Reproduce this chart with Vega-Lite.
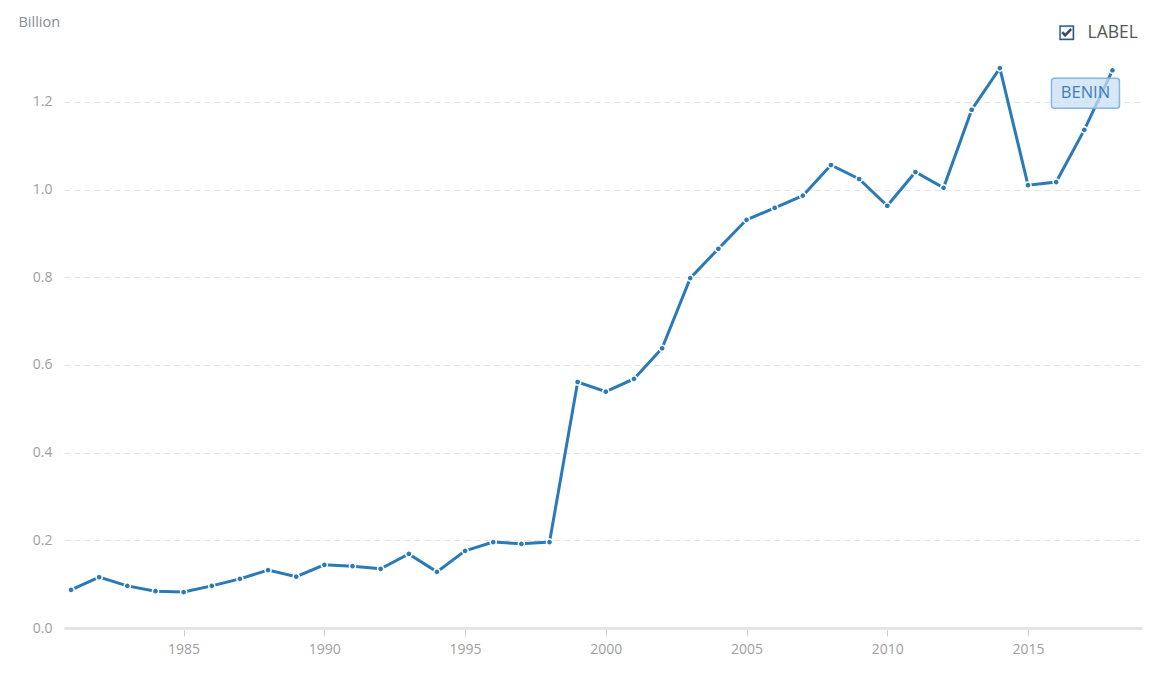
{
  "$schema": "https://vega.github.io/schema/vega-lite/v6.json",
  "width": 1078,
  "height": 570,
  "autosize": {"type": "none"},
  "padding": {"left": 64, "top": 58, "right": 13, "bottom": 72},
  "background": "#ffffff",
  "data": {
    "values": [
      {"year": 1981, "value": 0.087, "country": "BENIN"},
      {"year": 1982, "value": 0.116, "country": "BENIN"},
      {"year": 1983, "value": 0.096, "country": "BENIN"},
      {"year": 1984, "value": 0.084, "country": "BENIN"},
      {"year": 1985, "value": 0.082, "country": "BENIN"},
      {"year": 1986, "value": 0.096, "country": "BENIN"},
      {"year": 1987, "value": 0.112, "country": "BENIN"},
      {"year": 1988, "value": 0.132, "country": "BENIN"},
      {"year": 1989, "value": 0.117, "country": "BENIN"},
      {"year": 1990, "value": 0.144, "country": "BENIN"},
      {"year": 1991, "value": 0.141, "country": "BENIN"},
      {"year": 1992, "value": 0.135, "country": "BENIN"},
      {"year": 1993, "value": 0.169, "country": "BENIN"},
      {"year": 1994, "value": 0.128, "country": "BENIN"},
      {"year": 1995, "value": 0.176, "country": "BENIN"},
      {"year": 1996, "value": 0.196, "country": "BENIN"},
      {"year": 1997, "value": 0.192, "country": "BENIN"},
      {"year": 1998, "value": 0.196, "country": "BENIN"},
      {"year": 1999, "value": 0.561, "country": "BENIN"},
      {"year": 2000, "value": 0.539, "country": "BENIN"},
      {"year": 2001, "value": 0.568, "country": "BENIN"},
      {"year": 2002, "value": 0.638, "country": "BENIN"},
      {"year": 2003, "value": 0.798, "country": "BENIN"},
      {"year": 2004, "value": 0.865, "country": "BENIN"},
      {"year": 2005, "value": 0.931, "country": "BENIN"},
      {"year": 2006, "value": 0.958, "country": "BENIN"},
      {"year": 2007, "value": 0.986, "country": "BENIN"},
      {"year": 2008, "value": 1.056, "country": "BENIN"},
      {"year": 2009, "value": 1.024, "country": "BENIN"},
      {"year": 2010, "value": 0.963, "country": "BENIN"},
      {"year": 2011, "value": 1.040, "country": "BENIN"},
      {"year": 2012, "value": 1.004, "country": "BENIN"},
      {"year": 2013, "value": 1.182, "country": "BENIN"},
      {"year": 2014, "value": 1.277, "country": "BENIN"},
      {"year": 2015, "value": 1.010, "country": "BENIN"},
      {"year": 2016, "value": 1.017, "country": "BENIN"},
      {"year": 2017, "value": 1.136, "country": "BENIN"},
      {"year": 2018, "value": 1.272, "country": "BENIN"}
    ]
  },
  "encoding": {
    "x": {
      "field": "year",
      "type": "quantitative",
      "scale": {"domain": [1980.75, 2019.05], "nice": false, "zero": false},
      "axis": {
        "title": null,
        "values": [1985, 1990, 1995, 2000, 2005, 2010, 2015],
        "format": "d",
        "grid": false,
        "domainColor": "#e1e5ea",
        "domainWidth": 3,
        "tickColor": "#cfcfcf",
        "tickSize": 8,
        "labelPadding": 6,
        "labelColor": "#9e9e9e",
        "labelFont": "Open Sans",
        "labelFontSize": 14
      }
    },
    "y": {
      "field": "value",
      "type": "quantitative",
      "scale": {"domain": [0, 1.3], "nice": false},
      "axis": {
        "title": "Billion",
        "titleAngle": 0,
        "titleAlign": "left",
        "titleBaseline": "middle",
        "titleX": -46,
        "titleY": -36,
        "titleColor": "#878d95",
        "titleFont": "Open Sans",
        "titleFontSize": 14.5,
        "titleFontWeight": "normal",
        "values": [0, 0.2, 0.4, 0.6, 0.8, 1.0, 1.2],
        "format": ".1f",
        "domain": false,
        "ticks": false,
        "grid": true,
        "gridColor": "#e4e4e4",
        "gridDash": [6, 4],
        "labelPadding": 12,
        "labelColor": "#9e9e9e",
        "labelFont": "Open Sans",
        "labelFontSize": 14
      }
    }
  },
  "layer": [
    {
      "mark": {"type": "line", "strokeWidth": 3},
      "encoding": {
        "color": {
          "field": "country",
          "type": "nominal",
          "scale": {"range": ["#2a7ab8"]},
          "legend": {
            "orient": "none",
            "legendX": 994,
            "legendY": -34,
            "padding": 0,
            "title": null,
            "symbolType": "M-1,-1 L1,-1 L1,1 L-1,1 Z M-0.84,-0.84 L-0.84,0.84 L0.84,0.84 L0.84,-0.84 Z M-0.72,0.05 L-0.5,-0.17 L-0.22,0.12 L0.5,-0.62 L0.72,-0.4 L-0.22,0.58 Z",
            "symbolSize": 210,
            "labelExpr": "'LABEL'",
            "labelFont": "Open Sans",
            "labelFontSize": 17.5,
            "labelColor": "#555555",
            "labelOffset": 12,
            "encode": {
              "symbols": {
                "update": {
                  "fill": {"value": "#444444"},
                  "stroke": {"value": "#9a9a9a"},
                  "strokeWidth": {"value": 0.5},
                  "opacity": {"value": 1}
                }
              }
            }
          }
        }
      }
    },
    {
      "mark": {
        "type": "point",
        "filled": true,
        "fill": "#2a7ab8",
        "stroke": "#ffffff",
        "strokeWidth": 1.5,
        "size": 38,
        "opacity": 1
      }
    },
    {
      "transform": [{"filter": "datum.year == 2018"}],
      "mark": {
        "type": "rect",
        "xOffset": -61,
        "x2Offset": 7,
        "yOffset": 8,
        "y2Offset": 38,
        "fill": "#c9dff1",
        "fillOpacity": 0.75,
        "stroke": "#86b6dd",
        "strokeWidth": 1.5,
        "cornerRadius": 3
      },
      "encoding": {
        "x2": {"field": "year"},
        "y2": {"field": "value"}
      }
    },
    {
      "transform": [{"filter": "datum.year == 2018"}],
      "mark": {
        "type": "text",
        "dx": -27,
        "dy": 23,
        "align": "center",
        "baseline": "middle",
        "font": "Open Sans",
        "fontSize": 16.5,
        "color": "#3a80c0"
      },
      "encoding": {
        "text": {"field": "country"}
      }
    }
  ],
  "config": {
    "view": {"stroke": null},
    "font": "Open Sans"
  }
}
